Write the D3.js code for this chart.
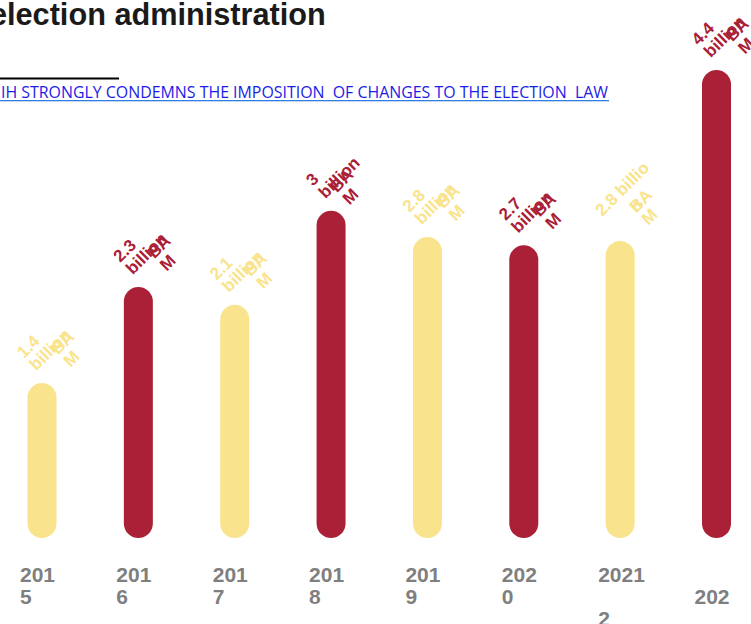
<!DOCTYPE html>
<html>
<head>
<meta charset="utf-8">
<script src="https://cdn.jsdelivr.net/npm/d3@7"></script>
<style>
  html, body { margin: 0; padding: 0; background: #fff; overflow: hidden; }
  svg { display: block; }
</style>
</head>
<body>
<svg id="chart" width="751" height="624"></svg>
<script>
// ---- data ----
const years = ["2015", "2016", "2017", "2018", "2019", "2020", "2021", "2022"];
const values = [1.4, 2.32, 2.15, 3.05, 2.8, 2.72, 2.76, 4.4];
const valueText = ["1.4", "2.3", "2.1", "3", "2.8", "2.7", "2.8", "4.4"];
const unitWord = "billion";
const currency = ["BA", "M"];
// wrapped year labels as they appear
const yearLines = [["201", "5"], ["201", "6"], ["201", "7"], ["201", "8"], ["201", "9"], ["202", "0"], ["2021", "", "2"], ["", "202"]];
const colorCycle = ["#f9e48d", "#aa2137"];

const svg = d3.select("#chart");

// ---- title / header ----
const titleFont = "'Liberation Sans', Arial, sans-serif";
const titleText = "election administration";
const title = svg.append("text")
  .attr("y", 25)
  .style("font-family", titleFont)
  .style("font-weight", "bold")
  .style("font-size", "30.7px")
  .attr("fill", "#1a1a1a")
  .text(titleText);
const probe = svg.append("text").style("font-family", titleFont)
  .style("font-weight", "bold").style("font-size", "30.7px").text("e");
const eW = probe.node().getComputedTextLength();
probe.remove();
title.attr("x", 8 - eW - 1);

svg.append("rect").attr("x", 0).attr("y", 77.5).attr("width", 119).attr("height", 2).attr("fill", "#000");

const linkText = "IH STRONGLY CONDEMNS THE IMPOSITION  OF CHANGES TO THE ELECTION  LAW";
svg.append("text")
  .attr("x", 1).attr("y", 98)
  .attr("textLength", 607).attr("lengthAdjust", "spacingAndGlyphs")
  .style("font-family", "'Open Sans', 'Noto Sans', sans-serif")
  .style("font-size", "16px")
  .attr("fill", "#1c1ce8")
  .style("white-space", "pre")
  .text(linkText);
svg.append("rect").attr("x", 0).attr("y", 100).attr("width", 609).attr("height", 1.3).attr("fill", "#2f7fe0");

// ---- scales ----
const x = d3.scalePoint().domain(years).range([42, 716.5]);
const y = d3.scaleLinear().domain([0, 4.4]).range([529, 70]);
const barW = 29;
const capExt = 9;

const data = years.map((yr, i) => ({ yr, v: values[i], label: valueText[i], color: colorCycle[i % 2], lines: yearLines[i], i }));

// bars
svg.append("g").selectAll("rect").data(data).join("rect")
  .attr("x", d => x(d.yr) - barW / 2)
  .attr("width", barW)
  .attr("y", d => y(d.v))
  .attr("height", d => y(0) + capExt - y(d.v))
  .attr("rx", barW / 2).attr("ry", barW / 2)
  .attr("fill", d => d.color);

// value labels rotated -45
const lh = 17.5;
const lg = svg.append("g").selectAll("g").data(data).join("g")
  .attr("transform", d => `translate(${x(d.yr) - 18},${y(d.v) - 24}) rotate(-45)`)
  .style("font-family", titleFont).style("font-weight", "bold").style("font-size", "17px")
  .attr("fill", d => d.color);

lg.each(function (d) {
  const g = d3.select(this);
  const first = g.append("text").attr("x", 0).attr("y", 0).text(d.label);
  const w1 = first.node().getComputedTextLength();
  if (d.yr === "2021") {
    first.text(d.label + " " + unitWord.slice(0, -1));
    g.append("text").attr("x", w1 + 3).attr("y", lh + 4).text(unitWord.slice(-1));
  } else {
    g.append("text").attr("x", 0).attr("y", lh).text(unitWord);
  }
  g.append("text").attr("x", w1 + 3).attr("y", lh + 4).text(currency[0]);
  g.append("text").attr("x", w1 + 3).attr("y", 2 * lh + 4).text(currency[1]);
});

// year labels (wrapped)
const yl = svg.append("g").selectAll("text").data(data).join("text")
  .attr("x", d => x(d.yr) - 22)
  .attr("y", 582)
  .style("font-family", titleFont)
  .style("font-weight", "bold").style("font-size", "21px")
  .attr("fill", "#7f7f7f");
yl.selectAll("tspan").data(d => d.lines.map((t, k) => ({ t, k, x0: x(d.yr) - 22 }))).join("tspan")
  .attr("x", t => t.x0)
  .attr("y", t => 582 + t.k * 22)
  .text(t => t.t);
</script>
</body>
</html>
